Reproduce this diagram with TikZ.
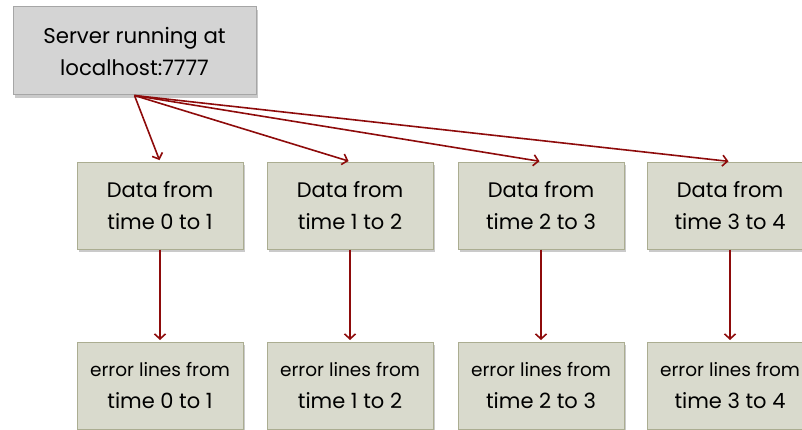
\documentclass[tikz,border=0pt]{standalone}
\usepackage{fontspec}
\setmainfont{Poppins}
\usetikzlibrary{arrows.meta,shadows}
\definecolor{topfill}{HTML}{D4D4D4}
\definecolor{topline}{HTML}{A6A6A6}
\definecolor{boxfill}{HTML}{D9DACD}
\definecolor{boxline}{HTML}{ABAD91}
\definecolor{arrowred}{HTML}{8E0B0B}
\tikzset{
  topbox/.style={draw=topline, fill=topfill, line width=1pt, minimum width=243pt, minimum height=88pt,
    inner sep=0pt, align=center, font=\fontsize{21.3}{32}\selectfont,
    drop shadow={shadow xshift=2pt, shadow yshift=-3pt, opacity=0.35, fill=black!60}},
  databox/.style={draw=boxline, fill=boxfill, line width=1pt, minimum width=166pt, minimum height=87pt,
    inner sep=0pt, align=center, font=\fontsize{21}{31.5}\selectfont,
    drop shadow={shadow xshift=2pt, shadow yshift=-3pt, opacity=0.35, fill=black!60}},
  conn/.style={draw=arrowred, line width=1.6pt, -{Straight Barb[length=5pt,width=11pt,line width=1.6pt]}, shorten >=1.5pt}
}
\begin{document}
\begin{tikzpicture}[x=1pt,y=1pt]
\useasboundingbox (0,0) rectangle (802,429);
\clip (0,0) rectangle (802,429);
\node[topbox] (top) at (134.5,378) {Server running at\\localhost:7777};
\node[databox] (d0) at (160,223.5) {Data from\\time 0 to 1};
\node[databox] (d1) at (350,223.5) {Data from\\time 1 to 2};
\node[databox] (d2) at (541,223.5) {Data from\\time 2 to 3};
\node[databox] (d3) at (730,223.5) {Data from\\time 3 to 4};
\node[databox] (e0) at (160,43.5) {{\fontsize{18.5}{31.5}\selectfont error lines from}\\time 0 to 1};
\node[databox] (e1) at (350,43.5) {{\fontsize{18.5}{31.5}\selectfont error lines from}\\time 1 to 2};
\node[databox] (e2) at (541,43.5) {{\fontsize{18.5}{31.5}\selectfont error lines from}\\time 2 to 3};
\node[databox] (e3) at (730,43.5) {{\fontsize{18.5}{31.5}\selectfont error lines from}\\time 3 to 4};
\foreach \i in {0,1,2,3} {
  \draw[conn] (top.south) -- (d\i.north);
  \draw[conn] (d\i.south) -- (e\i.north);
}
\end{tikzpicture}
\end{document}
